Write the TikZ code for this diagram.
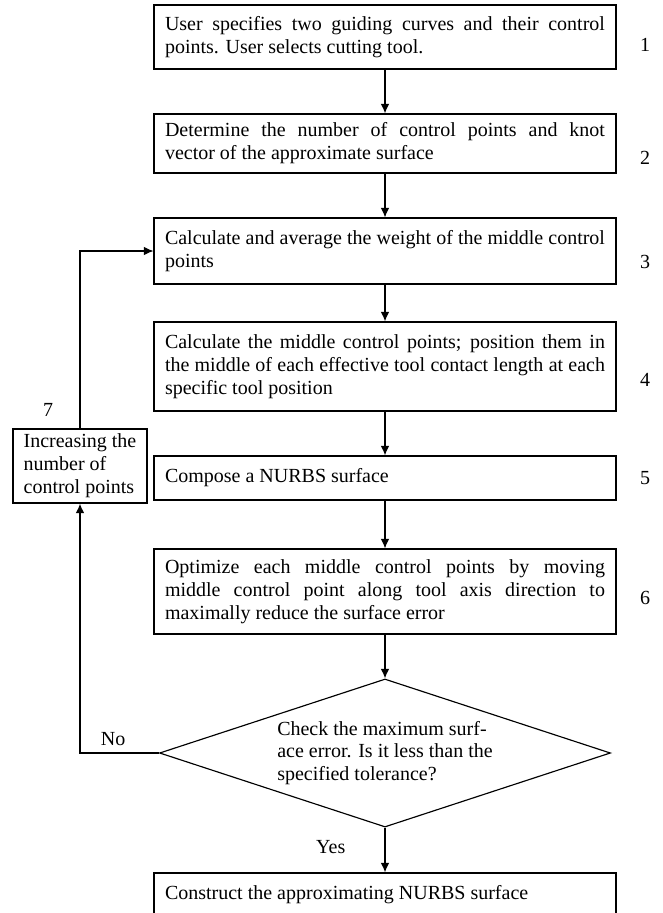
\documentclass[tikz,border=0pt]{standalone}
\usepackage{fontspec}
\setmainfont{Liberation Serif}
\usetikzlibrary{arrows.meta,shapes}

\begin{document}
\begin{tikzpicture}[x=0.52pt,y=-0.52pt,>={Latex[length=5pt,width=4.5pt]},line width=0.6pt,
	font=\fontsize{10.4}{11.9}\selectfont,
	stepbox/.style={draw,text width=228.8pt,inner xsep=5.7pt,inner ysep=0pt,align=justify},
	sidebox/.style={draw,align=left,inner sep=0pt,minimum width=69.7pt,minimum height=38.5pt},
	decision/.style={draw,diamond,aspect=3.05,align=left,inner sep=0pt,minimum width=234.5pt,minimum height=77pt},
	stepnum/.style={inner sep=0pt}]
		\useasboundingbox (0,0) rectangle (662,913);
		\clip (0,0) rectangle (662,913);
		%
		\node[stepbox,minimum height=33.3pt] (B1) at (385,37) {User specifies two guiding curves and their control\linebreak points. User selects cutting tool.};
		\node[stepbox,minimum height=30.7pt] (B2) at (385,143.5) {Determine the number of control points and knot\linebreak vector of the approximate surface};
		\node[stepbox,minimum height=34.3pt] (B3) at (385,251) {Calculate and average the weight of the middle control\linebreak points};
		\node[stepbox,minimum height=46.3pt] (B4) at (385,366.5) {Calculate the middle control points; position them in\linebreak the middle of each effective tool contact length at each\linebreak specific tool position};
		\node[stepbox,minimum height=22.9pt] (B5) at (385,478) {Compose a NURBS surface};
		\node[stepbox,minimum height=44.2pt] (B6) at (385,591.5) {Optimize each middle control points by moving\linebreak middle control point along tool axis direction to\linebreak maximally reduce the surface error};
		\node[decision] (D) at (385,753) {Check the maximum surf-\\ace error. Is it less than the\\specified tolerance?};
		\node[stepbox,minimum height=22.9pt] (B8) at (385,895) {Construct the approximating NURBS surface};
		\node[sidebox] (B7) at (80,466) {Increasing the\\number of\\control points};
		%
		\node[stepnum] (N1) at (645,45) {1};
		\node[stepnum] (N2) at (645,158) {2};
		\node[stepnum] (N3) at (645,262) {3};
		\node[stepnum] (N4) at (645,380) {4};
		\node[stepnum] (N5) at (645,478) {5};
		\node[stepnum] (N6) at (645,598) {6};
		\node[stepnum] (N7) at (48,410) {7};
		%
		\path[->]
		(B1) edge (B2)
		(B2) edge (B3)
		(B3) edge (B4)
		(B4) edge (B5)
		(B5) edge (B6)
		(B6) edge (D)
		(D) edge node[pos=0.43,left=17pt]{Yes} (B8);
		%
		\draw[->] (D.west) -| node[pos=0.29,above]{No} (B7.south);
		\draw[->] (B7.north) |- (B3.west);
		\end{tikzpicture}
\end{document}
